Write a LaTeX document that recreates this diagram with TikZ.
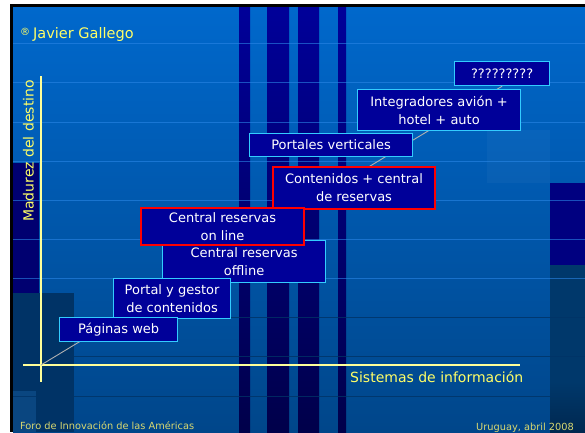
\documentclass[tikz,border=0pt]{standalone}
\usepackage{fontspec}
\setmainfont{DejaVu Sans}
\definecolor{bgtop}{HTML}{0068CC}
\definecolor{bgbot}{HTML}{00468A}
\definecolor{stripetop}{HTML}{000099}
\definecolor{stripebot}{HTML}{00004A}
\definecolor{boxfill}{HTML}{000099}
\definecolor{boxcyan}{HTML}{33CCFF}
\definecolor{axisyellow}{HTML}{FFFF99}
\definecolor{labelyellow}{HTML}{FFFF66}
\definecolor{footyellow}{HTML}{D8D870}
\definecolor{gridlight}{HTML}{2A86E6}
\definecolor{griddark}{HTML}{003366}
\definecolor{diag}{HTML}{B0B0B0}
\definecolor{rnavy}{HTML}{000080}
\definecolor{rdark}{HTML}{00386B}
\definecolor{rdarkb}{HTML}{002850}
\definecolor{lnavy}{HTML}{000070}
\definecolor{ldark}{HTML}{003366}
\definecolor{lmid}{HTML}{0A4680}
\newcommand\boxfont{\fontsize{13}{18}\selectfont}
\begin{document}
\begin{tikzpicture}[x=1pt,y=-1pt,
  box/.style={draw=boxcyan, line width=1.2pt, fill=boxfill, text=white,
    anchor=north west, inner sep=0pt, align=center, font=\boxfont},
  redbox/.style={box, draw=red, line width=2pt},
  stripe/.style={top color=stripetop, bottom color=stripebot},
  axisline/.style={draw=axisyellow, line width=2pt},
  axislabel/.style={text=labelyellow, inner sep=0pt, font=\fontsize{14}{16}\selectfont},
  footer/.style={text=footyellow, inner sep=0pt, font=\fontsize{9.8}{11}\selectfont},
  gridl/.style={draw=gridlight, line width=0.9pt, opacity=0.6},
  gridd/.style={draw=griddark, line width=0.9pt, opacity=0.8}]
\useasboundingbox (0,0) rectangle (585,432);
\clip (0,0) rectangle (585,432);
% background
\fill[white] (0,0) rectangle (585,432);
\fill[black] (10,4) rectangle (585,432);
\shade[top color=bgtop, bottom color=bgbot] (13,7) rectangle (585,432);
% lighter block top right
\fill[white, opacity=0.03] (487,130) rectangle (550,183);
% stripes
\shade[stripe] (239,7) rectangle (250,432);
\shade[stripe] (267,7) rectangle (289,432);
\shade[stripe] (298,7) rectangle (319,432);
\shade[stripe] (338,7) rectangle (346,432);
% right blocks
\fill[rnavy] (550,183) rectangle (585,265);
\fill[rdark] (550,265) rectangle (585,382);
\shade[top color=rdark, bottom color=rdarkb] (550,382) rectangle (585,432);
% left blocks
\fill[lnavy] (13,163) rectangle (39,293);
\fill[ldark] (13,293) rectangle (74,432);
\fill[lmid] (13,391) rectangle (36,432);
% grid lines
\foreach \yy in {43,82,122,161,200,239,278}
  \draw[gridl] (13,\yy) -- (585,\yy);
\foreach \yy in {317,356,396}
  \draw[gridd] (13,\yy) -- (585,\yy);
% axes
\coordinate (vtop) at (41,76);
\coordinate (vbot) at (41,382);
\coordinate (hleft) at (23,365);
\coordinate (hright) at (520,365);
\coordinate (o) at (41,365);
\draw[axisline] (vtop) -- (vbot);
\draw[axisline] (hleft) -- (hright);
% labels
\node[axislabel, rotate=90, anchor=base] (ylab) at (33.5,151) {Madurez del destino};
\node[axislabel, anchor=base west] (xlab) at (350,382) {Sistemas de información};
\node[text=labelyellow, inner sep=0pt, anchor=base west, font=\fontsize{14.5}{16}\selectfont] (author) at (20,38)
  {\raisebox{3pt}{\fontsize{10}{10}\selectfont ®}\hspace{3pt}Javier Gallego};
\node[footer, anchor=base west] (foot1) at (20,429) {Foro de Innovación de las Américas};
\node[footer, anchor=base east] (foot2) at (574,430) {Uruguay, abril 2008};
% boxes
\node[box, minimum width=95pt, minimum height=24pt] (q) at (454,61) {?????????};
\draw[diag, line width=0.9pt] (o) -- (q.south);
\node[box, minimum width=163pt, minimum height=41pt] (integ) at (357,89) {Integradores avión +\\hotel + auto};
\node[box, minimum width=163pt, minimum height=23pt] (portales) at (249,133) {Portales verticales};
\node[redbox, minimum width=162pt, minimum height=42pt] (cont) at (272,166) {Contenidos + central\\de reservas};
\node[box, minimum width=163pt, minimum height=42pt] (offline) at (162,240) {Central reservas\\offline};
\node[redbox, minimum width=163pt, minimum height=37pt] (online) at (140,207) {Central reservas\\on line};
\node[box, minimum width=117pt, minimum height=40pt] (portal) at (113,278) {Portal y gestor\\de contenidos};
\node[box, minimum width=118pt, minimum height=24pt] (web) at (59,317) {Páginas web};
\end{tikzpicture}
\end{document}
